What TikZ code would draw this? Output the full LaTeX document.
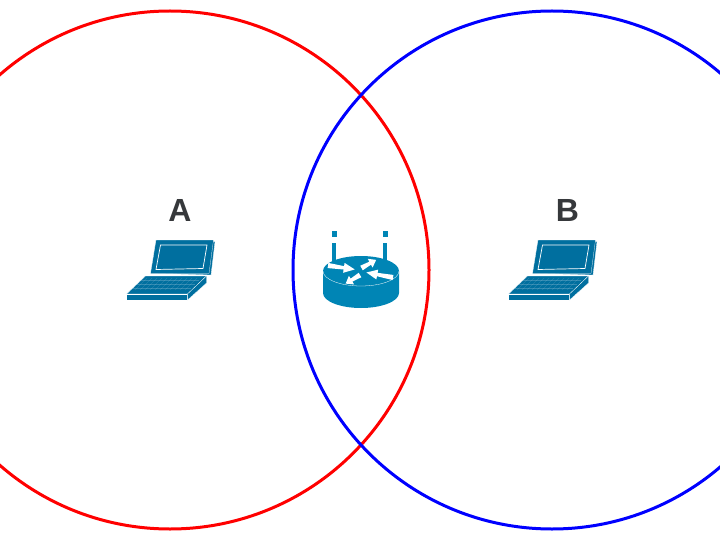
\documentclass[tikz,border=0pt]{standalone}
\usepackage{fontspec}
\setmainfont{Liberation Sans}
\usepackage{xcolor}
\usepackage{tikz}
\usetikzlibrary{arrows.meta,positioning}

\definecolor{laptopblue}{HTML}{006F9F}
\definecolor{routerblue}{HTML}{0085B5}
\definecolor{labelgrey}{HTML}{36383B}

\tikzset{
  cell range/.style={line width=3pt},
  hostlabel/.style={font=\fontsize{32}{32}\selectfont\bfseries,text=labelgrey,inner sep=0pt},
  laptopedge/.style={fill=laptopblue,draw=white,line width=0.25pt,line join=round},
  laptop/.pic={
    % side of the lid, lid, screen
    \path[laptopedge] (30,1.5) -- (88,1.5) -- (84,35) -- (24,33) -- cycle;
    \path[laptopedge] (29,0) -- (86.5,0) -- (82,33.5) -- (23.5,33.5) -- cycle;
    \draw[white,line width=0.7pt] (33.5,5) -- (80,5) -- (76,28.5) -- (29,29.5) -- cycle;
    % keyboard and front of the base
    \path[laptopedge] (18.5,36) -- (79.5,36) -- (60.5,54) -- (-0.5,54) -- cycle;
    \path[laptopedge] (-0.5,54) -- (60.5,54) -- (60.5,60) -- (-0.5,60) -- cycle;
    \path[laptopedge] (60.5,54) -- (79.5,36) -- (79.5,43) -- (60.5,60) -- cycle;
    % keys
    \foreach \k in {40,44,48}
      \draw[white,line width=0.2pt,opacity=0.2] ({18-(\k-36)},\k) -- ({76-(\k-36)},\k);
    \foreach \k in {0,...,10}
      \draw[white,line width=0.2pt,opacity=0.2] ({20+5*\k},38) -- ({8+5*\k},50);
  },
  routerarrow/.pic={
    \fill[white] (0,-2.6) -- (16,-1.7) -- (16,-5) -- (27,0) -- (16,5) -- (16,1.7) -- (0,2.6) -- cycle;
  }
}

\begin{document}
\begin{tikzpicture}[x=1pt,y=-1pt]

\useasboundingbox (0,0) rectangle (720,540);

\draw[cell range,red] (170,270) circle [radius=259];
\draw[cell range,blue] (552,270) circle [radius=259];

\node[hostlabel] (labelA) at (180,210) {A};
\node[hostlabel] (labelB) at (567.5,210) {B};

\pic at (127,240) {laptop};
\pic at (509,240) {laptop};

% antennas
\fill[routerblue] (331.5,231) rectangle (336.5,236.5);
\fill[routerblue] (332,242.5) rectangle (336,262);
\fill[routerblue] (382.5,231) rectangle (387.5,236.5);
\fill[routerblue] (383,242.5) rectangle (387,262);

% router body
\fill[routerblue] (323,271) -- (323,293) arc [start angle=180,end angle=0,x radius=38,y radius=15] -- (399,271) -- cycle;
\fill[routerblue] (361,271) ellipse [x radius=38,y radius=15];
\draw[white,line width=0.3pt] (323,271) arc [start angle=180,end angle=0,x radius=38,y radius=15];

\pic[rotate=-8.4] at (328,265.5) {routerarrow};
\pic[rotate=29,xscale=0.62] at (361.5,268) {routerarrow};
\pic[rotate=-190.7] at (393,277.5) {routerarrow};
\pic[rotate=-149,xscale=0.62] at (360,275) {routerarrow};

\end{tikzpicture}
\end{document}
